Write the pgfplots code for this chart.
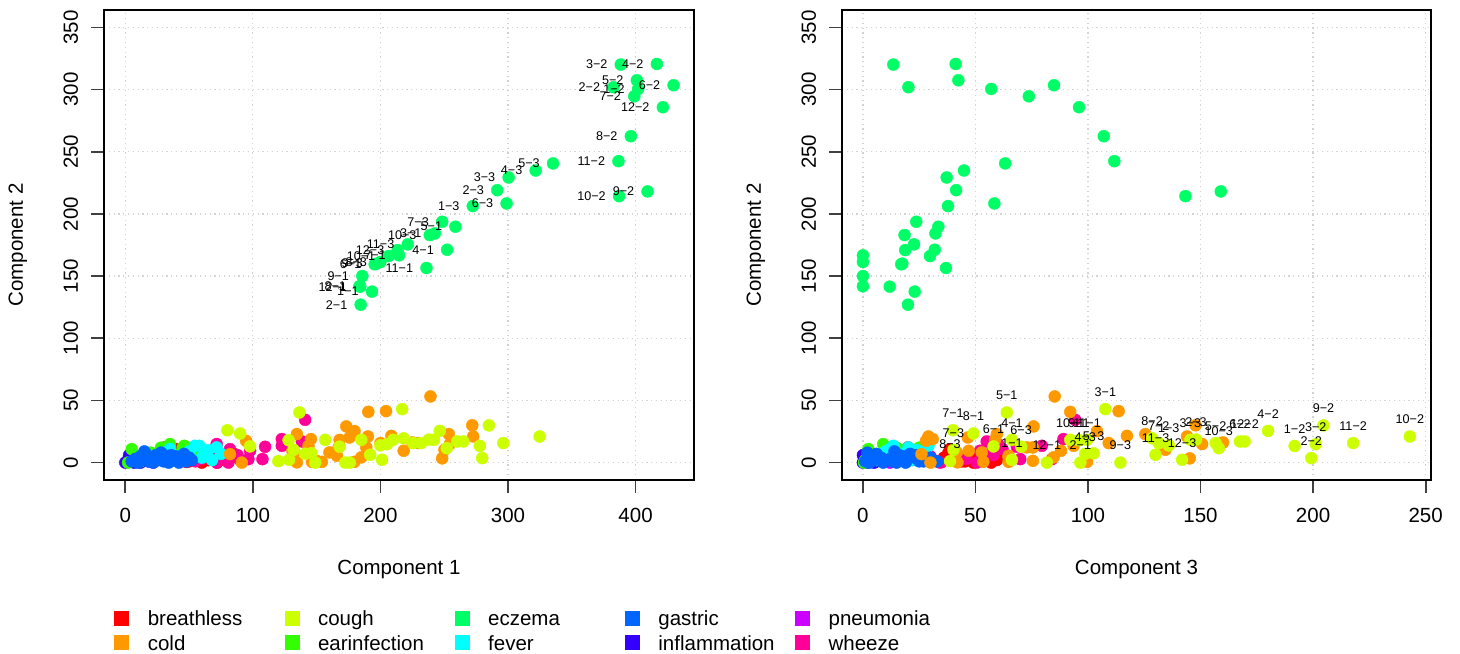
\documentclass[border=0pt]{standalone}
\usepackage{fontspec}
\setmainfont{Liberation Sans}
\usepackage{pgfplots}
\usepackage{pgfplotstable}
\pgfplotsset{compat=1.18}

% rainbow(10)
\definecolor{cBreath}{HTML}{FF0000}
\definecolor{cCold}{HTML}{FF9900}
\definecolor{cCough}{HTML}{CCFF00}
\definecolor{cEar}{HTML}{33FF00}
\definecolor{cEcz}{HTML}{00FF66}
\definecolor{cFever}{HTML}{00FFFF}
\definecolor{cGastric}{HTML}{0066FF}
\definecolor{cInfl}{HTML}{3300FF}
\definecolor{cPneu}{HTML}{CC00FF}
\definecolor{cWheeze}{HTML}{FF0099}
\definecolor{rgrid}{HTML}{D3D3D3}

% columns: component 1, component 2, component 3
\pgfplotstableread{
c1 c2 c3 lab
193.4 137.5 23.0 1−1
184.5 127.0 20.0 2−1
242.6 184.3 32.2 3−1
252.3 171.2 31.9 4−1
258.8 189.7 33.5 5−1
195.5 159.5 17.0 6−1
214.6 166.7 0.0 7−1
183.5 141.8 0.0 8−1
185.8 150.0 0.0 9−1
206.4 166.1 29.8 10−1
236.1 156.5 36.9 11−1
184.2 141.5 11.9 12−1
402.0 300.5 57.0 1−2
382.7 301.9 20.2 2−2
388.4 320.1 13.5 3−2
416.7 320.6 41.2 4−2
401.0 307.5 42.4 5−2
429.8 303.5 84.9 6−2
399.0 294.6 73.7 7−2
396.3 262.5 107.0 8−2
409.4 218.1 159.0 9−2
387.1 214.3 143.3 10−2
386.6 242.4 111.7 11−2
421.4 285.8 96.0 12−2
272.4 206.3 37.8 1−3
291.6 219.1 41.4 2−3
300.5 229.3 37.2 3−3
321.7 234.9 44.9 4−3
335.3 240.6 63.2 5−3
298.9 208.4 58.4 6−3
248.4 193.7 23.7 7−3
199.9 161.3 0.0 8−3
196.8 160.0 17.5 9−3
238.7 183.0 18.5 10−3
221.4 175.5 22.7 11−3
213.5 170.9 18.8 12−3
}\eczema

\pgfplotstableread{
c1 c2 c3 lab
128.4 2.3 66.2 1−1
148.9 0.0 96.6 2−1
217.0 43.0 107.7 3−1
156.7 18.3 66.2 4−1
136.5 40.3 63.9 5−1
97.8 13.0 58.0 6−1
80.0 26.0 40.0 7−1
90.0 23.4 49.1 8−1
128.0 18.0 96.0 9−1
185.0 18.3 92.1 10−1
210.0 18.3 99.6 11−1
176.0 0.0 81.7 12−1
277.9 13.4 191.8 1−2
279.8 3.6 199.2 2−2
205.2 14.8 201.2 3−2
246.5 25.5 180.0 4−2
225.6 15.7 156.7 5−2
260.2 17.0 167.5 6−2
232.0 15.7 131.4 7−2
218.2 19.5 128.5 8−2
285.0 29.9 204.6 9−2
324.8 21.0 243.0 10−2
296.3 15.7 217.8 11−2
265.0 17.0 169.6 12−2
200.0 13.8 135.9 1−3
238.0 18.5 148.0 2−3
242.0 18.3 145.5 3−3
141.0 7.1 98.8 4−3
146.0 7.5 102.5 5−3
168.0 12.8 70.3 6−3
132.0 10.3 40.2 7−3
120.0 1.2 38.7 8−3
172.4 0.0 114.4 9−3
252.0 11.6 158.1 10−3
192.0 6.3 130.0 11−3
201.2 2.3 141.8 12−3
}\cough

\pgfplotstableread{
c1 c2 c3
239.2 53.2 85.2
204.4 41.4 113.6
190.5 40.8 92.1
272.0 30.0 147.8
173.2 29.1 75.8
179.7 25.3 104.0
253.6 22.9 125.5
134.5 22.9 59.5
208.6 21.5 117.3
272.7 21.0 144.0
190.2 21.0 29.1
175.8 20.2 46.6
145.5 18.9 31.0
168.0 18.3 58.7
94.7 17.5 28.0
225.0 16.2 160.0
200.0 15.7 109.2
230.0 15.7 159.6
254.4 14.9 150.7
143.6 13.5 93.6
188.9 12.2 72.8
167.2 12.2 75.5
250.2 10.3 134.4
218.2 9.5 88.0
131.0 9.5 47.0
132.4 8.2 41.7
160.0 8.2 52.8
82.1 6.8 26.0
165.9 5.5 64.7
185.0 4.2 84.7
248.4 3.4 145.2
150.0 1.4 75.5
179.5 0.6 64.7
146.3 0.6 53.5
154.1 0.6 99.6
134.5 0.2 42.0
91.3 0.0 30.0
}\cold

\pgfplotstableread{
c1 c2 c3
40 10.8 38.7
45 3.0 40.0
50 1.0 45.4
55 6.0 42.0
60 0.0 49.1
65 2.0 59.5
70 9.5 61.0
75 4.0 36.0
80 1.0 44.0
85 7.0 52.0
62 5.0 47.0
58 8.0 38.0
90 2.0 55.0
48 0.5 35.0
72 0.0 57.0
}\breathless

\pgfplotstableread{
c1 c2 c3
2.2 0.0 0.5
35.0 14.9 9.0
46.2 13.5 27.6
5.0 10.8 2.4
8.0 2.0 1.0
15.0 5.0 5.0
20.0 8.0 12.0
25.0 3.0 8.0
30.0 10.0 18.0
40.0 6.0 22.0
45.0 12.0 25.0
50.0 4.0 20.0
55.0 7.0 28.0
12.0 1.0 3.0
28.0 12.0 15.0
}\earinf

\pgfplotstableread{
c1 c2 c3
54.6 13.5 13.5
71.6 12.2 20.2
58.0 13.5 29.1
45.4 6.8 17.9
60.0 4.0 15.0
68.0 2.0 22.0
50.0 9.0 10.0
40.0 3.0 8.0
35.0 11.0 12.0
75.0 7.0 25.0
63.8 9.5 28.0
30.0 2.0 6.0
20.0 4.0 4.0
65.0 10.0 24.0
}\fever

\pgfplotstableread{
c1 c2 c3
5 1 1
8 3 12
10 0 3
12 5 20
14 2 5
16 7 6
18 1 25
20 4 8
22 0 9
24 6 16
26 2 11
28 8 2
30 1 13
32 4 30
34 0 15
36 6 4
38 2 17
40 5 22
42 0 19
44 3 7
46 7 21
48 1 33
50 4 23
52 2 10
15 9 14
25 3 26
35 1 27
45 5 18
20 2 29
30 6 24
}\gastric

\pgfplotstableread{
c1 c2 c3
0 0 0
2 2 1
4 4 0.5
6 1 2
8 5 1
10 3 3
12 0 2
14 2 4
16 4 1
3 6 0
7 0 5
18 1 6
}\inflam

\pgfplotstableread{
c1 c2 c3
10 3 2
15 6 5
20 2 8
25 4 3
12 1 10
18 7 4
22 0 12
28 3 6
}\pneumonia

\pgfplotstableread{
c1 c2 c3
141.0 34.4 94.3
122.7 18.9 89.1
138.4 17.0 55.0
122.7 13.5 79.5
109.6 12.7 68.4
71.6 14.9 60.0
82.0 10.8 62.0
97.8 9.5 52.0
31.0 12.2 20.0
107.5 2.8 84.0
96.5 2.8 69.9
80.8 0.0 50.6
71.6 0.0 34.3
60.0 3.0 46.0
50.0 4.0 45.0
45.0 2.0 42.0
88.0 6.0 58.0
65.0 8.0 57.0
55.0 1.0 33.0
40.0 5.0 30.0
}\wheeze

\pgfplotsset{
  pts/.style={only marks, mark=*, mark size=3pt, color=#1, mark options={line width=0.2pt}, forget plot},
  rbase/.style={
    scale only axis, height=235pt,
    ymin=-14, ymax=364, ytick={0,50,...,350},
    axis line style={line width=0.9pt},
    tick align=outside, major tick length=6.4pt,
    xtick pos=bottom, ytick pos=left,
    major tick style={line width=0.9pt, black!75},
    grid=major,
    major grid style={color=rgrid, line width=0.6pt, dash pattern=on 0.6pt off 1.8pt},
    tick label style={font=\fontsize{10.25}{12}\selectfont},
    label style={font=\fontsize{10.25}{12}\selectfont},
    /pgf/number format/assume math mode=true,
    xticklabel style={anchor=north, inner sep=0pt},
    yticklabel style={rotate=90, anchor=south, inner sep=0pt},
    xticklabel shift=7.6pt, yticklabel shift=6.35pt,
    xlabel style={at={(axis description cs:0.5,0)}, anchor=north, inner sep=0pt, yshift=-40pt},
    ylabel style={at={(axis description cs:-0.1298,0.5)}, anchor=south, inner sep=0pt},
    ylabel={Component 2},
  },
  lab/.style={only marks, mark=none, nodes near coords, point meta=explicit symbolic, forget plot},
}

\newcommand{\legtxt}[1]{\makebox[68.4pt][l]{#1}}

\begin{document}
\begin{tikzpicture}
\useasboundingbox (0,0) rectangle (730pt,326.5pt);

% left panel: component 1 vs component 2
\begin{axis}[
  rbase,
  at={(52pt,86.5pt)}, anchor=south west, width=295pt,
  xmin=-16.7, xmax=445.8, xtick={0,100,...,400},
  xlabel={Component 1},
  legend columns=5,
  legend image code/.code={\fill[#1] (0pt,0.2pt) rectangle (7pt,7.2pt);},
  legend style={at={(axis description cs:0,0)}, anchor=north west,
    xshift=5.2pt, yshift=-65.35pt, draw=none, fill=none,
    inner sep=0pt, outer sep=0pt, row sep=2.5pt,
    font=\fontsize{10.25}{12}\selectfont,
    cells={anchor=base west},
    nodes={inner sep=0pt, text height=7.5pt, text depth=2.2pt},
    /tikz/every odd column/.append style={column sep=9.3pt}},
]
\addplot[pts=cBreath] table[x=c1,y=c2] {\breathless};
\addplot[pts=cWheeze] table[x=c1,y=c2] {\wheeze};
\addplot[pts=cPneu] table[x=c1,y=c2] {\pneumonia};
\addplot[pts=cInfl] table[x=c1,y=c2] {\inflam};
\addplot[pts=cEar] table[x=c1,y=c2] {\earinf};
\addplot[pts=cFever] table[x=c1,y=c2] {\fever};
\addplot[pts=cGastric] table[x=c1,y=c2] {\gastric};
\addplot[pts=cCold] table[x=c1,y=c2] {\cold};
\addplot[pts=cCough] table[x=c1,y=c2] {\cough};
\addplot[pts=cEcz] table[x=c1,y=c2] {\eczema};
\addplot[lab, nodes near coords style={font=\fontsize{6.3}{7}\selectfont, anchor=east, inner sep=0pt, xshift=-6.5pt}]
  table[x=c1,y=c2,meta=lab] {\eczema};

\addlegendimage{color=cBreath}\addlegendentry{\legtxt{breathless}}
\addlegendimage{color=cCough}\addlegendentry{\legtxt{cough}}
\addlegendimage{color=cEcz}\addlegendentry{\legtxt{eczema}}
\addlegendimage{color=cGastric}\addlegendentry{\legtxt{gastric}}
\addlegendimage{color=cPneu}\addlegendentry{\legtxt{pneumonia}}
\addlegendimage{color=cCold}\addlegendentry{\legtxt{cold}}
\addlegendimage{color=cEar}\addlegendentry{\legtxt{earinfection}}
\addlegendimage{color=cFever}\addlegendentry{\legtxt{fever}}
\addlegendimage{color=cInfl}\addlegendentry{\legtxt{inflammation}}
\addlegendimage{color=cWheeze}\addlegendentry{\legtxt{wheeze}}
\end{axis}

% right panel: component 3 vs component 2
\begin{axis}[
  rbase,
  at={(421pt,86.5pt)}, anchor=south west, width=294.5pt,
  xmin=-9.3, xmax=252.4, xtick={0,50,...,250},
  xlabel={Component 3},
]
\addplot[pts=cBreath] table[x=c3,y=c2] {\breathless};
\addplot[pts=cWheeze] table[x=c3,y=c2] {\wheeze};
\addplot[pts=cPneu] table[x=c3,y=c2] {\pneumonia};
\addplot[pts=cInfl] table[x=c3,y=c2] {\inflam};
\addplot[pts=cEar] table[x=c3,y=c2] {\earinf};
\addplot[pts=cFever] table[x=c3,y=c2] {\fever};
\addplot[pts=cGastric] table[x=c3,y=c2] {\gastric};
\addplot[pts=cCold] table[x=c3,y=c2] {\cold};
\addplot[pts=cCough] table[x=c3,y=c2] {\cough};
\addplot[pts=cEcz] table[x=c3,y=c2] {\eczema};
\addplot[lab, nodes near coords style={font=\fontsize{6.3}{7}\selectfont, anchor=base, inner sep=0pt, yshift=6.3pt}]
  table[x=c3,y=c2,meta=lab] {\cough};
\end{axis}
\end{tikzpicture}
\end{document}
